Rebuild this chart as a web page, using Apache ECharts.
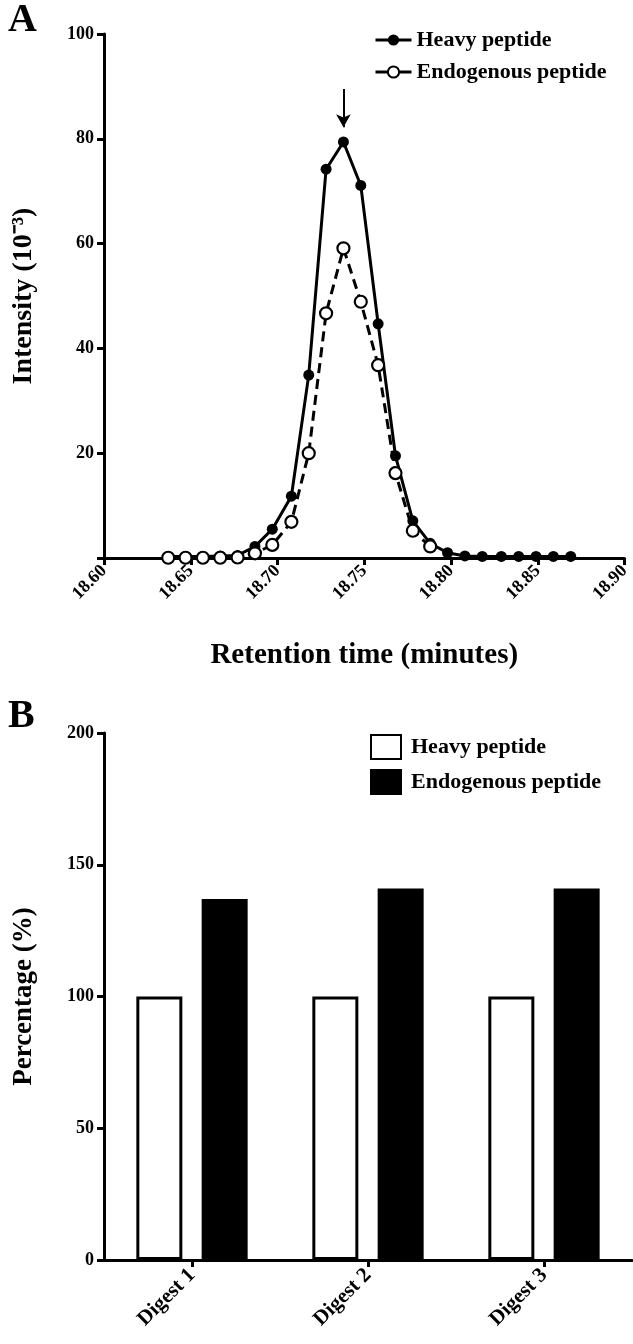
<!DOCTYPE html>
<html><head><meta charset="utf-8">
<script src="https://cdn.jsdelivr.net/npm/echarts@6/dist/echarts.min.js"></script>
<style>html,body{margin:0;padding:0;background:#fff}#c{width:633px;height:1344px}</style>
</head><body><div id="c"></div>
<script>
// Panel A data
const retentionTimes = [18.637,18.647,18.657,18.667,18.677,18.687,18.697,18.708,18.718,18.728,18.738,18.748,18.758,18.768,18.778,18.788,18.798,18.808,18.818,18.829,18.839,18.849,18.859,18.869];
const heavyIntensity = [0.3,0.3,0.3,0.4,0.5,2.2,5.5,11.8,34.9,74.2,79.4,71.1,44.7,19.5,7.1,2.8,1.0,0.4,0.3,0.3,0.3,0.3,0.3,0.3];
const endoIntensity = [0.05,0.05,0.05,0.05,0.1,0.9,2.5,6.9,20.0,46.7,59.1,48.9,36.8,16.2,5.2,2.2];
const arrowTime = 18.738;
const arrowFrom = 89.5, arrowTo = 82.2;
// Panel B data
const digests = ['Digest 1','Digest 2','Digest 3'];
const heavyPct = [100,100,100];
const endoPct = [137,141,141];

const FONT = '"Liberation Serif","Times New Roman",serif';
const chart = echarts.init(document.getElementById('c'), null, {renderer:'canvas'});
const axisLineStyle = {lineStyle:{color:'#000', width:3}};
const tickStyle = {show:true, inside:false, length:7, lineStyle:{color:'#000', width:3}};
const lblStyle = {color:'#000', fontFamily:FONT, fontWeight:'bold', fontSize:18};

const heavyPts = retentionTimes.map((t,i)=>[t, heavyIntensity[i]]);
const endoPts = endoIntensity.map((v,i)=>[retentionTimes[i], v]);

chart.setOption({
  animation:false,
  backgroundColor:'#fff',
  textStyle:{fontFamily:FONT},
  graphic:[
    {type:'text', left:8, top:1, style:{text:'A', font:'bold 40px '+FONT, fill:'#000'}},
    {type:'text', left:8, top:697, style:{text:'B', font:'bold 40px '+FONT, fill:'#000'}}
  ],
  grid:[
    {left:104, top:34, width:524, height:524, containLabel:false},
    {left:104, top:733, width:528, height:527, containLabel:false}
  ],
  legend:[
    {
      data:['Heavy peptide','Endogenous peptide'],
      orient:'vertical', left:374, top:28, itemGap:8, padding:0,
      itemWidth:36, itemHeight:14,
      textStyle:{color:'#000', fontFamily:FONT, fontWeight:'bold', fontSize:22, lineHeight:24},
      lineStyle:{type:'solid', width:3}
    },
    {
      data:['Heavy peptide ','Endogenous peptide '],
      orient:'vertical', left:370, top:734, itemGap:9, padding:0,
      itemWidth:30, itemHeight:24, icon:'rect',
      formatter: n => n.trim(),
      textStyle:{color:'#000', fontFamily:FONT, fontWeight:'bold', fontSize:22, lineHeight:24, padding:[0,0,0,5]}
    }
  ],
  xAxis:[
    {
      gridIndex:0, type:'value', min:18.60, max:18.90, interval:0.05,
      axisLine:axisLineStyle, axisTick:tickStyle, splitLine:{show:false},
      axisLabel:Object.assign({rotate:45, margin:10, formatter:v=>v.toFixed(2)}, lblStyle),
      name:'Retention time (minutes)', nameLocation:'middle', nameGap:83,
      nameTextStyle:{color:'#000', fontFamily:FONT, fontWeight:'bold', fontSize:29}
    },
    {
      gridIndex:1, type:'category', data:digests, boundaryGap:true,
      axisLine:axisLineStyle, axisTick:Object.assign({alignWithLabel:true, interval:0}, tickStyle),
      splitLine:{show:false},
      axisLabel:Object.assign({rotate:45, margin:12, interval:0}, lblStyle, {fontSize:21})
    }
  ],
  yAxis:[
    {
      gridIndex:0, type:'value', min:0, max:100, interval:20,
      axisLine:Object.assign({show:true}, axisLineStyle), axisTick:tickStyle, splitLine:{show:false},
      axisLabel:Object.assign({margin:10, formatter:v=>v===0?'':String(v)}, lblStyle),
      name:'Intensity (10\u207B\u00B3)', nameLocation:'middle', nameGap:66,
      nameTextStyle:{color:'#000', fontFamily:FONT, fontWeight:'bold', fontSize:28}
    },
    {
      gridIndex:1, type:'value', min:0, max:200, interval:50,
      axisLine:Object.assign({show:true}, axisLineStyle), axisTick:tickStyle, splitLine:{show:false},
      axisLabel:Object.assign({margin:10}, lblStyle),
      name:'Percentage (%)', nameLocation:'middle', nameGap:66,
      nameTextStyle:{color:'#000', fontFamily:FONT, fontWeight:'bold', fontSize:27}
    }
  ],
  series:[
    {
      name:'Heavy peptide', type:'line', xAxisIndex:0, yAxisIndex:0, data:heavyPts,
      symbol:'circle', symbolSize:11, showSymbol:true,
      itemStyle:{color:'#000'}, lineStyle:{color:'#000', width:3}, z:2,
      markLine:{
        silent:true, animation:false, symbol:['none','arrow'], symbolSize:[11,13],
        label:{show:false}, lineStyle:{color:'#000', width:2, type:'solid'},
        data:[[{coord:[arrowTime, arrowFrom]},{coord:[arrowTime, arrowTo]}]]
      }
    },
    {
      name:'Endogenous peptide', type:'line', xAxisIndex:0, yAxisIndex:0, data:endoPts,
      symbol:'circle', symbolSize:12, showSymbol:true,
      itemStyle:{color:'#fff', borderColor:'#000', borderWidth:2.2},
      lineStyle:{color:'#000', width:3, type:[10,6]}, z:3
    },
    {
      name:'Heavy peptide ', type:'bar', xAxisIndex:1, yAxisIndex:1, data:heavyPct,
      barWidth:46, barGap:'42%',
      itemStyle:{color:'#fff', borderColor:'#000', borderWidth:3}
    },
    {
      name:'Endogenous peptide ', type:'bar', xAxisIndex:1, yAxisIndex:1, data:endoPct,
      barWidth:46, barGap:'42%',
      itemStyle:{color:'#000', borderColor:'#000', borderWidth:3}
    }
  ]
});
</script></body></html>
